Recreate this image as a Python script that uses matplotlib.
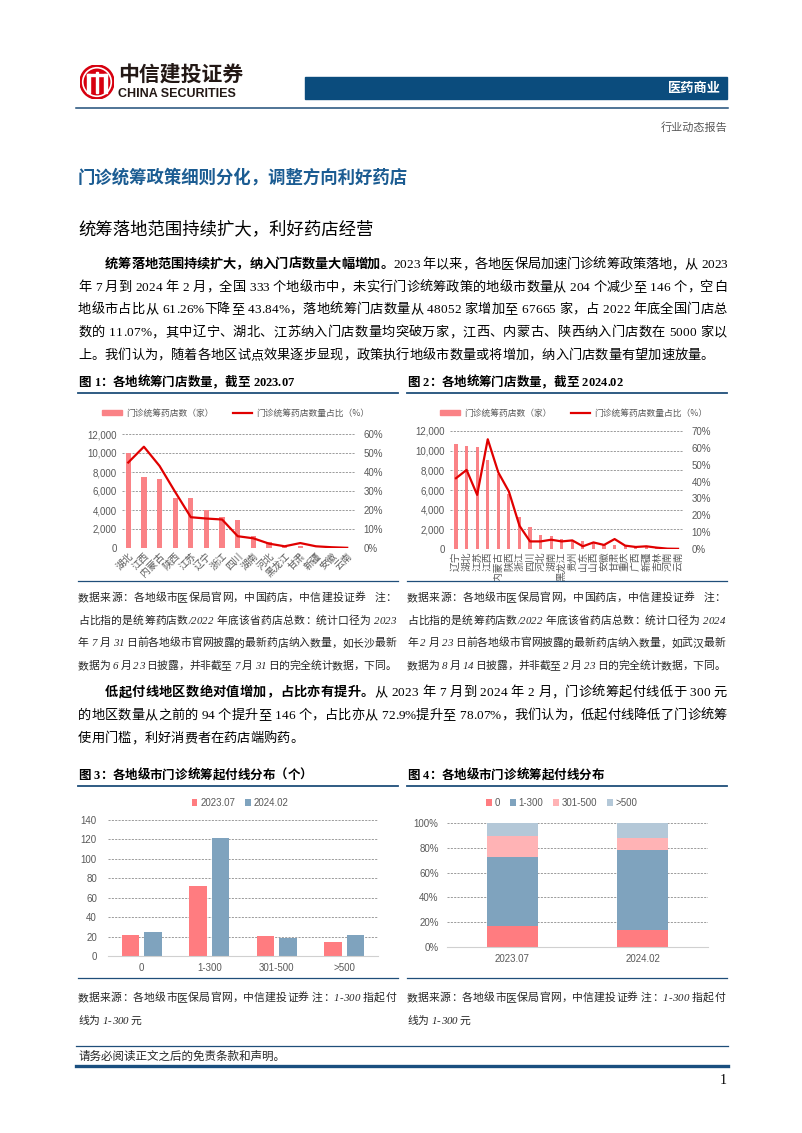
import matplotlib
matplotlib.use('Agg')
import matplotlib.pyplot as plt
from matplotlib.lines import Line2D
from matplotlib.patches import Rectangle, Circle, Patch

# ---- data ----
prov_2307 = ['湖北', '江西', '内蒙古', '陕西', '江苏', '辽宁', '浙江', '四川', '湖南', '河北',
             '黑龙江', '甘肃', '新疆', '安徽', '云南']
stores_2307 = [9950, 7480, 7230, 5220, 5220, 3990, 3280, 3000, 1300, 600, 100, 180, 40, 30, 20]
share_2307 = [45.0, 53.3, 43.2, 29.5, 16.2, 15.5, 15.0, 6.2, 5.1, 2.3, 0.9, 2.6, 0.9, 0.4, 0.1]

prov_2402 = ['辽宁', '湖北', '江苏', '江西', '内蒙古', '陕西', '浙江', '四川', '河北', '湖南', '黑龙江',
             '贵州', '山东', '山西', '安徽', '甘肃', '重庆', '广西', '新疆', '吉林', '河南', '云南']
stores_2402 = [10650, 10450, 10400, 9100, 7600, 5600, 3300, 2230, 1450, 1350, 1010,
               950, 850, 610, 440, 440, 270, 170, 270, 135, 70, 30]
share_2402 = [42.0, 46.9, 32.1, 65.1, 45.4, 34.1, 13.8, 4.5, 4.5, 5.5, 4.5,
              5.1, 1.6, 3.9, 2.4, 5.9, 2.0, 1.2, 1.6, 0.8, 0.2, 0.1]

bands = ['0', '1-300', '301-500', '>500']
cnt_2307 = [22, 72, 21, 14]
cnt_2402 = [25, 121, 19, 22]

periods = ['2023.07', '2024.02']
pct_0 = [17.1, 13.4]
pct_1_300 = [55.8, 64.7]
pct_301_500 = [16.3, 10.2]
pct_over_500 = [10.8, 11.7]

# ---- page setup ----
W, H = 802, 1133
fig = plt.figure(figsize=(W / 100, H / 100), dpi=100)
renderer = fig.canvas.get_renderer()

CJK = 'Noto Sans CJK SC'
SERIF = ['Liberation Serif', CJK]
SANS = ['Liberation Sans', CJK]
NAVY = '#1F4E79'
GREY = '#595959'
RED_BAR = '#FA8286'
RED_LINE = '#E00000'
BLUE_BAR = '#7FA3BE'


def fx(x):
    return x / W


def fy(y):
    return 1 - y / H


def hline(x0, x1, y, lw=1.0, color=NAVY):
    fig.add_artist(Line2D([fx(x0), fx(x1)], [fy(y), fy(y)], transform=fig.transFigure,
                          lw=lw, color=color))


_cache = {}


def text_w(s, size, weight, style):
    t = fig.text(0, 0, s, family=SERIF, size=size, weight=weight, style=style)
    w = t.get_window_extent(renderer).width
    t.remove()
    return w


def adv(ch, size, weight, style):
    key = (ch, size, weight, style)
    if key not in _cache:
        _cache[key] = text_w('x' + ch + 'x', size, weight, style) - text_w('xx', size, weight, style)
    return _cache[key]


def put_line(x0, y, parts, size, x1=None, style='normal', color='black'):
    # y is the baseline; x1 given -> justified line
    chars = [(c, w) for txt, w in parts for c in txt]
    widths = [adv(c, size, w, style) for c, w in chars]
    gap = 0
    if x1 is not None and len(chars) > 1:
        gap = (x1 - x0 - sum(widths)) / (len(chars) - 1)
    x = x0
    for (c, w), cw in zip(chars, widths):
        if c != ' ':
            fig.text(fx(x), fy(y), c, family=SERIF, size=size, weight=w, style=style,
                     color=color, ha='left', va='baseline')
        x += cw + gap


# ---- header ----
logo = fig.add_axes([fx(80), fy(99), 34 / W, 34 / H])
logo.set_xlim(-1, 1)
logo.set_ylim(-1, 1)
logo.set_aspect('equal')
logo.axis('off')
logo.add_patch(Circle((0, 0), 1, color='#D7000F'))
logo.add_patch(Circle((0, 0), 0.84, fill=False, ec='white', lw=1.2))
for xc, top in [(-0.5, 0.45), (0, 0.6), (0.5, 0.45)]:
    logo.add_patch(Rectangle((xc - 0.08, -0.62), 0.16, top + 0.62, color='white'))
logo.add_patch(Rectangle((-0.58, 0.35), 1.16, 0.12, color='white'))

fig.text(fx(118), fy(74), '中信建投证券', family=CJK, size=15, weight='bold', color='#231815',
         va='center', ha='left')
fig.text(fx(118), fy(94), 'CHINA SECURITIES', family='Liberation Sans', size=9, weight='bold',
         color='#231815', va='center', ha='left')
fig.add_artist(Rectangle((fx(305), fy(99)), (727 - 305) / W, 22 / H, color='#0B4C7D',
                         transform=fig.transFigure))
fig.text(fx(721), fy(88), '医药商业', family=CJK, size=9.5, weight='bold', color='white',
         ha='right', va='center')
hline(76, 728, 108, lw=1.1)
fig.text(fx(727), fy(127), '行业动态报告', family=CJK, size=8, color=GREY, ha='right', va='center')

# ---- headings and body ----
fig.text(fx(78), fy(178), '门诊统筹政策细则分化，调整方向利好药店', family=CJK, size=12.5,
         weight='bold', color='#1B5C92', va='center', ha='left')
fig.text(fx(78), fy(229), '统筹落地范围持续扩大，利好药店经营', family=CJK, size=12.5,
         color='black', va='center', ha='left')

BODY = 9.5
B, N = 'bold', 'normal'
put_line(105, 268, [('统筹落地范围持续扩大，纳入门店数量大幅增加。', B),
                    ('2023 年以来，各地医保局加速门诊统筹政策落地，从 2023', N)], BODY, 727)
put_line(78, 291, [('年 7 月到 2024 年 2 月，全国 333 个地级市中，未实行门诊统筹政策的地级市数量从 204 个减少至 146 个，空白', N)], BODY, 727)
put_line(78, 313, [('地级市占比从 61.26%下降至 43.84%，落地统筹门店数量从 48052 家增加至 67665 家，占 2022 年底全国门店总', N)], BODY, 727)
put_line(78, 336, [('数的 11.07%，其中辽宁、湖北、江苏纳入门店数量均突破万家，江西、内蒙古、陕西纳入门店数在 5000 家以', N)], BODY, 727)
put_line(78, 359, [('上。我们认为，随着各地区试点效果逐步显现，政策执行地级市数量或将增加，纳入门店数量有望加速放量。', N)], BODY)

put_line(105, 696, [('低起付线地区数绝对值增加，占比亦有提升。', B),
                    ('从 2023 年 7 月到 2024 年 2 月，门诊统筹起付线低于 300 元', N)], BODY, 727)
put_line(78, 719, [('的地区数量从之前的 94 个提升至 146 个，占比亦从 72.9%提升至 78.07%，我们认为，低起付线降低了门诊统筹', N)], BODY, 727)
put_line(78, 742, [('使用门槛，利好消费者在药店端购药。', N)], BODY)

# ---- figure captions and rules ----
CAP = 9
put_line(78, 386, [('图 1：各地统筹门店数量，截至 2023.07', B)], CAP)
put_line(407, 386, [('图 2：各地统筹门店数量，截至 2024.02', B)], CAP)
put_line(78, 779, [('图 3：各地级市门诊统筹起付线分布（个）', B)], CAP)
put_line(407, 779, [('图 4：各地级市门诊统筹起付线分布', B)], CAP)
for y in (393, 786):
    hline(78, 398, y, lw=1.3)
    hline(407, 727, y, lw=1.3)
for y in (581, 978):
    hline(78, 398, y, lw=0.9)
    hline(407, 727, y, lw=0.9)

# ---- notes ----
NOTE = 7.8
notes_1 = ['数据来源：各地级市医保局官网，中国药店，中信建投证券   注：',
           '占比指的是统筹药店数/2022 年底该省药店总数：统计口径为 2023',
           '年 7 月 31 日前各地级市官网披露的最新药店纳入数量，如长沙最新',
           '数据为 6 月 23 日披露，并非截至 7 月 31 日的完全统计数据，下同。']
notes_2 = ['数据来源：各地级市医保局官网，中国药店，中信建投证券   注：',
           '占比指的是统筹药店数/2022 年底该省药店总数：统计口径为 2024',
           '年 2 月 23 日前各地级市官网披露的最新药店纳入数量，如武汉最新',
           '数据为 8 月 14 日披露，并非截至 2 月 23 日的完全统计数据，下同。']
for i, (a, b) in enumerate(zip(notes_1, notes_2)):
    y = 601 + i * 22.7
    put_line(78, y, [(a, N)], NOTE, 396, style='italic', color='#262626')
    put_line(407, y, [(b, N)], NOTE, 725, style='italic', color='#262626')
for x0, x1 in ((78, 396), (407, 725)):
    put_line(x0, 1001, [('数据来源：各地级市医保局官网，中信建投证券 注：1-300 指起付', N)], NOTE, x1,
             style='italic', color='#262626')
    put_line(x0, 1024, [('线为 1-300 元', N)], NOTE, style='italic', color='#262626')


# ---- chart helpers ----
def style_axis(ax, bottom_line=False):
    for s in ax.spines.values():
        s.set_visible(False)
    if bottom_line:
        ax.spines['bottom'].set_visible(True)
        ax.spines['bottom'].set_color('#D0D0D0')
        ax.spines['bottom'].set_linewidth(0.8)
    ax.tick_params(length=0, labelsize=7, labelcolor=GREY)
    ax.yaxis.grid(True, linestyle=(0, (2.5, 1.5)), color='#8C8C8C', linewidth=0.6)
    ax.set_axisbelow(True)
    for lab in ax.get_yticklabels():
        lab.set_family('Liberation Sans')


def combo_chart(rect, provs, stores, shares, xlim, right_max, rotation, lab_size, legend_x):
    ax = fig.add_axes(rect)
    x = list(range(len(provs)))
    ax.bar(x, stores, width=0.34 if rotation == 45 else 0.3, color=RED_BAR, zorder=2)
    ax.set_xlim(*xlim)
    ax.set_ylim(0, 12000)
    ax.set_yticks(range(0, 12001, 2000))
    ax.set_yticklabels([f'{v:,}' for v in range(0, 12001, 2000)])
    ax.set_xticks(x)
    if rotation == 45:
        ax.set_xticklabels(provs, rotation=45, ha='right', va='top', rotation_mode='anchor',
                           family=CJK, size=lab_size, color=GREY)
    else:
        ax.set_xticklabels(provs, rotation=90, ha='center', va='top', family=CJK,
                           size=lab_size, color=GREY)
    style_axis(ax)
    ax.tick_params(axis='x', pad=2)
    ax2 = ax.twinx()
    ax2.plot(x, shares, color=RED_LINE, lw=1.6, zorder=3)
    ax2.set_ylim(0, right_max)
    ax2.set_yticks(range(0, right_max + 1, 10))
    ax2.set_yticklabels([f'{v}%' for v in range(0, right_max + 1, 10)], family='Liberation Sans')
    for s in ax2.spines.values():
        s.set_visible(False)
    ax2.tick_params(length=0, labelsize=7, labelcolor=GREY, pad=6)
    handles = [Patch(color=RED_BAR), Line2D([], [], color=RED_LINE, lw=1.6)]
    fig.legend(handles, ['门诊统筹药店数（家）', '门诊统筹药店数量占比（%）'], loc='center',
               bbox_to_anchor=(fx(legend_x), fy(413)), ncol=2, frameon=False,
               prop={'family': CJK, 'size': 6.3}, labelcolor=GREY, handlelength=2.2,
               handleheight=0.5, columnspacing=2.2, handletextpad=0.5)
    return ax


combo_chart([fx(122), fy(548), 233 / W, 114 / H], prov_2307, stores_2307, share_2307,
            (-0.4, 14.5), 60, 45, 6.5, 236)
combo_chart([fx(450), fy(549), 233 / W, 118 / H], prov_2402, stores_2402, share_2402,
            (-0.57, 21.47), 70, 90, 6, 574)

# chart 3: grouped bars
ax3 = fig.add_axes([fx(108), fy(956), 270 / W, 136 / H])
xs = list(range(len(bands)))
ax3.bar([i - 0.165 for i in xs], cnt_2307, width=0.26, color='#FF7C80', label='2023.07', zorder=2)
ax3.bar([i + 0.165 for i in xs], cnt_2402, width=0.26, color=BLUE_BAR, label='2024.02', zorder=2)
ax3.set_xlim(-0.5, 3.5)
ax3.set_ylim(0, 140)
ax3.set_yticks(range(0, 141, 20))
ax3.set_xticks(xs)
ax3.set_xticklabels(bands, family='Liberation Sans')
style_axis(ax3, bottom_line=True)
ax3.tick_params(axis='y', pad=8)
ax3.tick_params(axis='x', pad=5)
fig.legend(*ax3.get_legend_handles_labels(), loc='center', bbox_to_anchor=(fx(240), fy(803)),
           ncol=2, frameon=False, prop={'family': 'Liberation Sans', 'size': 7}, labelcolor=GREY,
           handlelength=0.6, handleheight=0.6, handletextpad=0.3, columnspacing=1.0)

# chart 4: 100% stacked bars
ax4 = fig.add_axes([fx(447), fy(947), 261 / W, 124 / H])
xp = list(range(len(periods)))
bottom = [0, 0]
for vals, col, lab in [(pct_0, '#FF7C80', '0'), (pct_1_300, BLUE_BAR, '1-300'),
                       (pct_301_500, '#FFB3B5', '301-500'), (pct_over_500, '#B4C8D8', '>500')]:
    ax4.bar(xp, vals, bottom=bottom, width=0.39, color=col, label=lab, zorder=2)
    bottom = [b + v for b, v in zip(bottom, vals)]
ax4.set_xlim(-0.5, 1.5)
ax4.set_ylim(0, 100)
ax4.set_yticks(range(0, 101, 20))
ax4.set_yticklabels([f'{v}%' for v in range(0, 101, 20)])
ax4.set_xticks(xp)
ax4.set_xticklabels(periods, family='Liberation Sans')
style_axis(ax4, bottom_line=True)
ax4.tick_params(axis='y', pad=6)
ax4.tick_params(axis='x', pad=5)
fig.legend(*ax4.get_legend_handles_labels(), loc='center', bbox_to_anchor=(fx(562), fy(803)),
           ncol=4, frameon=False, prop={'family': 'Liberation Sans', 'size': 7}, labelcolor=GREY,
           handlelength=0.6, handleheight=0.6, handletextpad=0.3, columnspacing=1.0)

# ---- footer ----
hline(76, 728, 1046, lw=0.9)
fig.text(fx(78), fy(1056), '请务必阅读正文之后的免责条款和声明。', family=CJK, size=8.3,
         color='#262626', va='center', ha='left')
hline(76, 728, 1066, lw=2.4, color='#1A4F7F')
fig.text(fx(727), fy(1081), '1', family='Liberation Serif', size=10, ha='right', va='center')

fig.savefig('out.png', dpi=100)
